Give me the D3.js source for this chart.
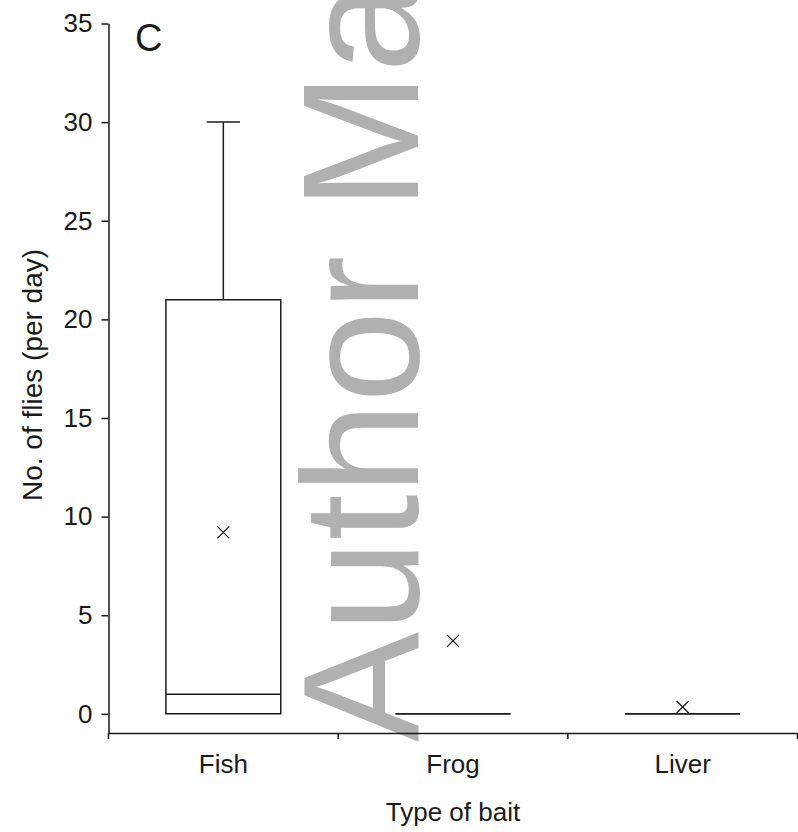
<!DOCTYPE html>
<html>
<head>
<meta charset="utf-8">
<script src="https://cdn.jsdelivr.net/npm/d3@7"></script>
<style>
  body { margin: 0; background: #fff; }
  svg { display: block; }
  text { font-family: "Liberation Sans", Arial, sans-serif; fill: #1a1a1a; }
</style>
</head>
<body>
<svg id="chart" width="798" height="832"></svg>
<script>
// box-plot summary per bait type
const categories = ["Fish", "Frog", "Liver"];
const lowWhisker = [0, 0, 0];
const q1 = [0, 0, 0];
const median = [1, 0, 0];
const q3 = [21, 0, 0];
const highWhisker = [30, 0, 0];
const means = [9.2, 3.7, 0.35];
const yTicks = [0, 5, 10, 15, 20, 25, 30, 35];

const svg = d3.select("#chart");

const x = d3.scaleBand()
    .domain(categories)
    .range([108.5, 797.5])
    .padding(0);

const y = d3.scaleLinear()
    .domain([-0.97, 35])
    .range([733, 23.5]);

// watermark sits under everything
svg.append("text")
    .attr("transform", "translate(418,742) rotate(-90)")
    .style("font-size", "165px")
    .style("fill", "#b0b0b0")
    .text("Author Manuscript");

// y axis
const yAxis = svg.append("g")
    .attr("transform", "translate(108.5,0)")
    .call(d3.axisLeft(y).tickValues(yTicks).tickSize(7).tickPadding(9).tickSizeOuter(0));
yAxis.selectAll("text").style("font-size", "26px");
yAxis.selectAll("path, line").attr("stroke", "#1a1a1a").attr("stroke-width", 1.5);

// x axis: labels at centres, ticks at band edges
const xAxis = svg.append("g")
    .attr("transform", "translate(0,733)")
    .call(d3.axisBottom(x).tickSize(0).tickPadding(22).tickSizeOuter(0));
xAxis.selectAll("text").style("font-size", "26px");
xAxis.select(".domain").attr("stroke", "#1a1a1a").attr("stroke-width", 1.5);

const edges = categories.map(c => x(c)).concat([x(categories[categories.length - 1]) + x.bandwidth()]);
xAxis.selectAll(".edge")
    .data(edges)
    .enter()
    .append("line")
    .attr("class", "edge")
    .attr("x1", d => d).attr("x2", d => d)
    .attr("y1", 0).attr("y2", 6)
    .attr("stroke", "#1a1a1a")
    .attr("stroke-width", 1.5);

// boxes
const bw = x.bandwidth() * 0.5;
const capW = x.bandwidth() * 0.145;
const g = svg.append("g").attr("fill", "none").attr("stroke", "#1a1a1a").attr("stroke-width", 1.5);

categories.forEach(function (c, i) {
    const cx = x(c) + x.bandwidth() / 2;
    const x0 = cx - bw / 2, x1 = cx + bw / 2;

    if (highWhisker[i] > q3[i]) {
        g.append("line")
            .attr("x1", cx).attr("x2", cx)
            .attr("y1", y(q3[i])).attr("y2", y(highWhisker[i]));
        g.append("line")
            .attr("x1", cx - capW / 2).attr("x2", cx + capW / 2)
            .attr("y1", y(highWhisker[i])).attr("y2", y(highWhisker[i]));
    }
    if (lowWhisker[i] < q1[i]) {
        g.append("line")
            .attr("x1", cx).attr("x2", cx)
            .attr("y1", y(q1[i])).attr("y2", y(lowWhisker[i]));
    }

    g.append("path")
        .attr("d", `M${x0},${y(q1[i])}H${x1}V${y(q3[i])}H${x0}Z`);

    g.append("line")
        .attr("x1", x0).attr("x2", x1)
        .attr("y1", y(median[i])).attr("y2", y(median[i]));

    // mean marker
    const my = y(means[i]), s = 6;
    g.append("path")
        .attr("stroke-width", 1.3)
        .attr("d", `M${cx - s},${my - s}L${cx + s},${my + s}M${cx - s},${my + s}L${cx + s},${my - s}`);
});

// axis titles and panel letter
svg.append("text")
    .attr("transform", "translate(42,375) rotate(-90)")
    .attr("text-anchor", "middle")
    .style("font-size", "28px")
    .text("No. of flies (per day)");

svg.append("text")
    .attr("x", x(categories[1]) + x.bandwidth() / 2)
    .attr("y", 821)
    .attr("text-anchor", "middle")
    .style("font-size", "26px")
    .text("Type of bait");

svg.append("text")
    .attr("x", 135)
    .attr("y", 51)
    .style("font-size", "38px")
    .text("C");
</script>
</body>
</html>
